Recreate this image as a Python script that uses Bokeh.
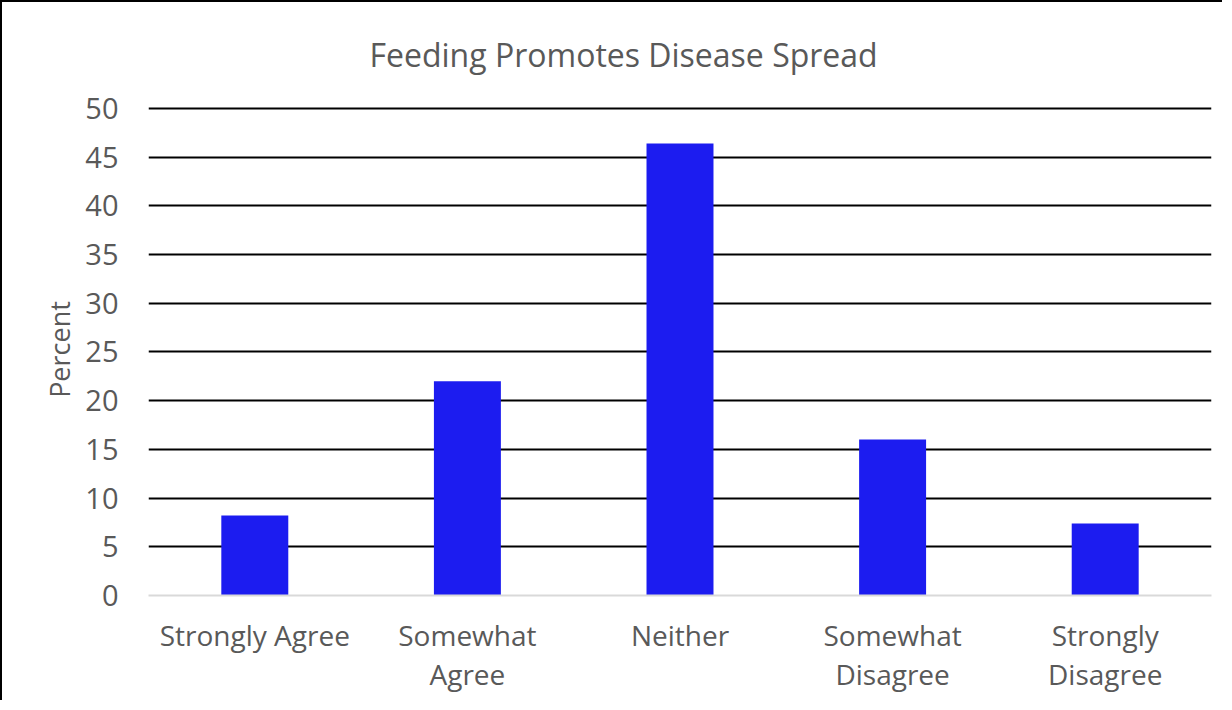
from bokeh.plotting import figure
from bokeh.models import FixedTicker, ColumnDataSource
from bokeh.embed import file_html
from bokeh.resources import INLINE

categories = ["Strongly Agree", "Somewhat\nAgree", "Neither", "Somewhat\nDisagree", "Strongly\nDisagree"]
percent = [8.2, 22.0, 46.4, 16.0, 7.4]
y_ticks = [0, 5, 10, 15, 20, 25, 30, 35, 40, 45, 50]
title_text = "Feeding Promotes Disease Spread"

FONT = "Open Sans"
GRAY = "#595959"

p = figure(x_range=categories, y_range=(0, 50.5), width=1222, height=700,
           output_backend="svg", toolbar_location=None,
           min_border_left=146, min_border_right=13, min_border_top=101, min_border_bottom=107)
p.styles = {"border-left": "2px solid black", "border-top": "2px solid black"}
p.outline_line_color = None
p.background_fill_color = "white"
p.border_fill_color = "white"

p.title.text = title_text
p.title.align = "left"
p.title.offset = 221
p.title.standoff = 55
p.title.text_font = FONT
p.title.text_font_size = "32px"
p.title.text_font_style = "normal"
p.title.text_color = GRAY

src = ColumnDataSource(dict(cat=categories, val=percent))
p.vbar(x="cat", top="val", width=0.315, source=src, fill_color="#1c1cf0", line_color=None)

p.xgrid.grid_line_color = None
p.ygrid.ticker = FixedTicker(ticks=[t for t in y_ticks if t != 0])
p.ygrid.grid_line_color = "black"
p.ygrid.grid_line_width = 2

p.yaxis.ticker = FixedTicker(ticks=y_ticks)
p.yaxis.axis_line_color = None
p.yaxis.major_tick_line_color = None
p.yaxis.minor_tick_line_color = None
p.yaxis.major_tick_out = 0
p.yaxis.major_label_standoff = 30
p.yaxis.major_label_text_font = FONT
p.yaxis.major_label_text_font_size = "29px"
p.yaxis.major_label_text_color = GRAY
p.yaxis.axis_label = "Percent"
p.yaxis.axis_label_text_font = FONT
p.yaxis.axis_label_text_font_size = "27px"
p.yaxis.axis_label_text_font_style = "normal"
p.yaxis.axis_label_text_color = GRAY
p.yaxis.axis_label_standoff = 4

p.xaxis.axis_line_color = "#d9d9d9"
p.xaxis.axis_line_width = 2
p.xaxis.major_tick_line_color = None
p.xaxis.minor_tick_line_color = None
p.xaxis.major_tick_out = 0
p.xaxis.major_label_standoff = 20
p.xaxis.major_label_text_font = FONT
p.xaxis.major_label_text_font_size = "28px"
p.xaxis.major_label_text_line_height = 1.05
p.xaxis.major_label_text_color = GRAY

open("out.html", "w").write(file_html(p, INLINE))
